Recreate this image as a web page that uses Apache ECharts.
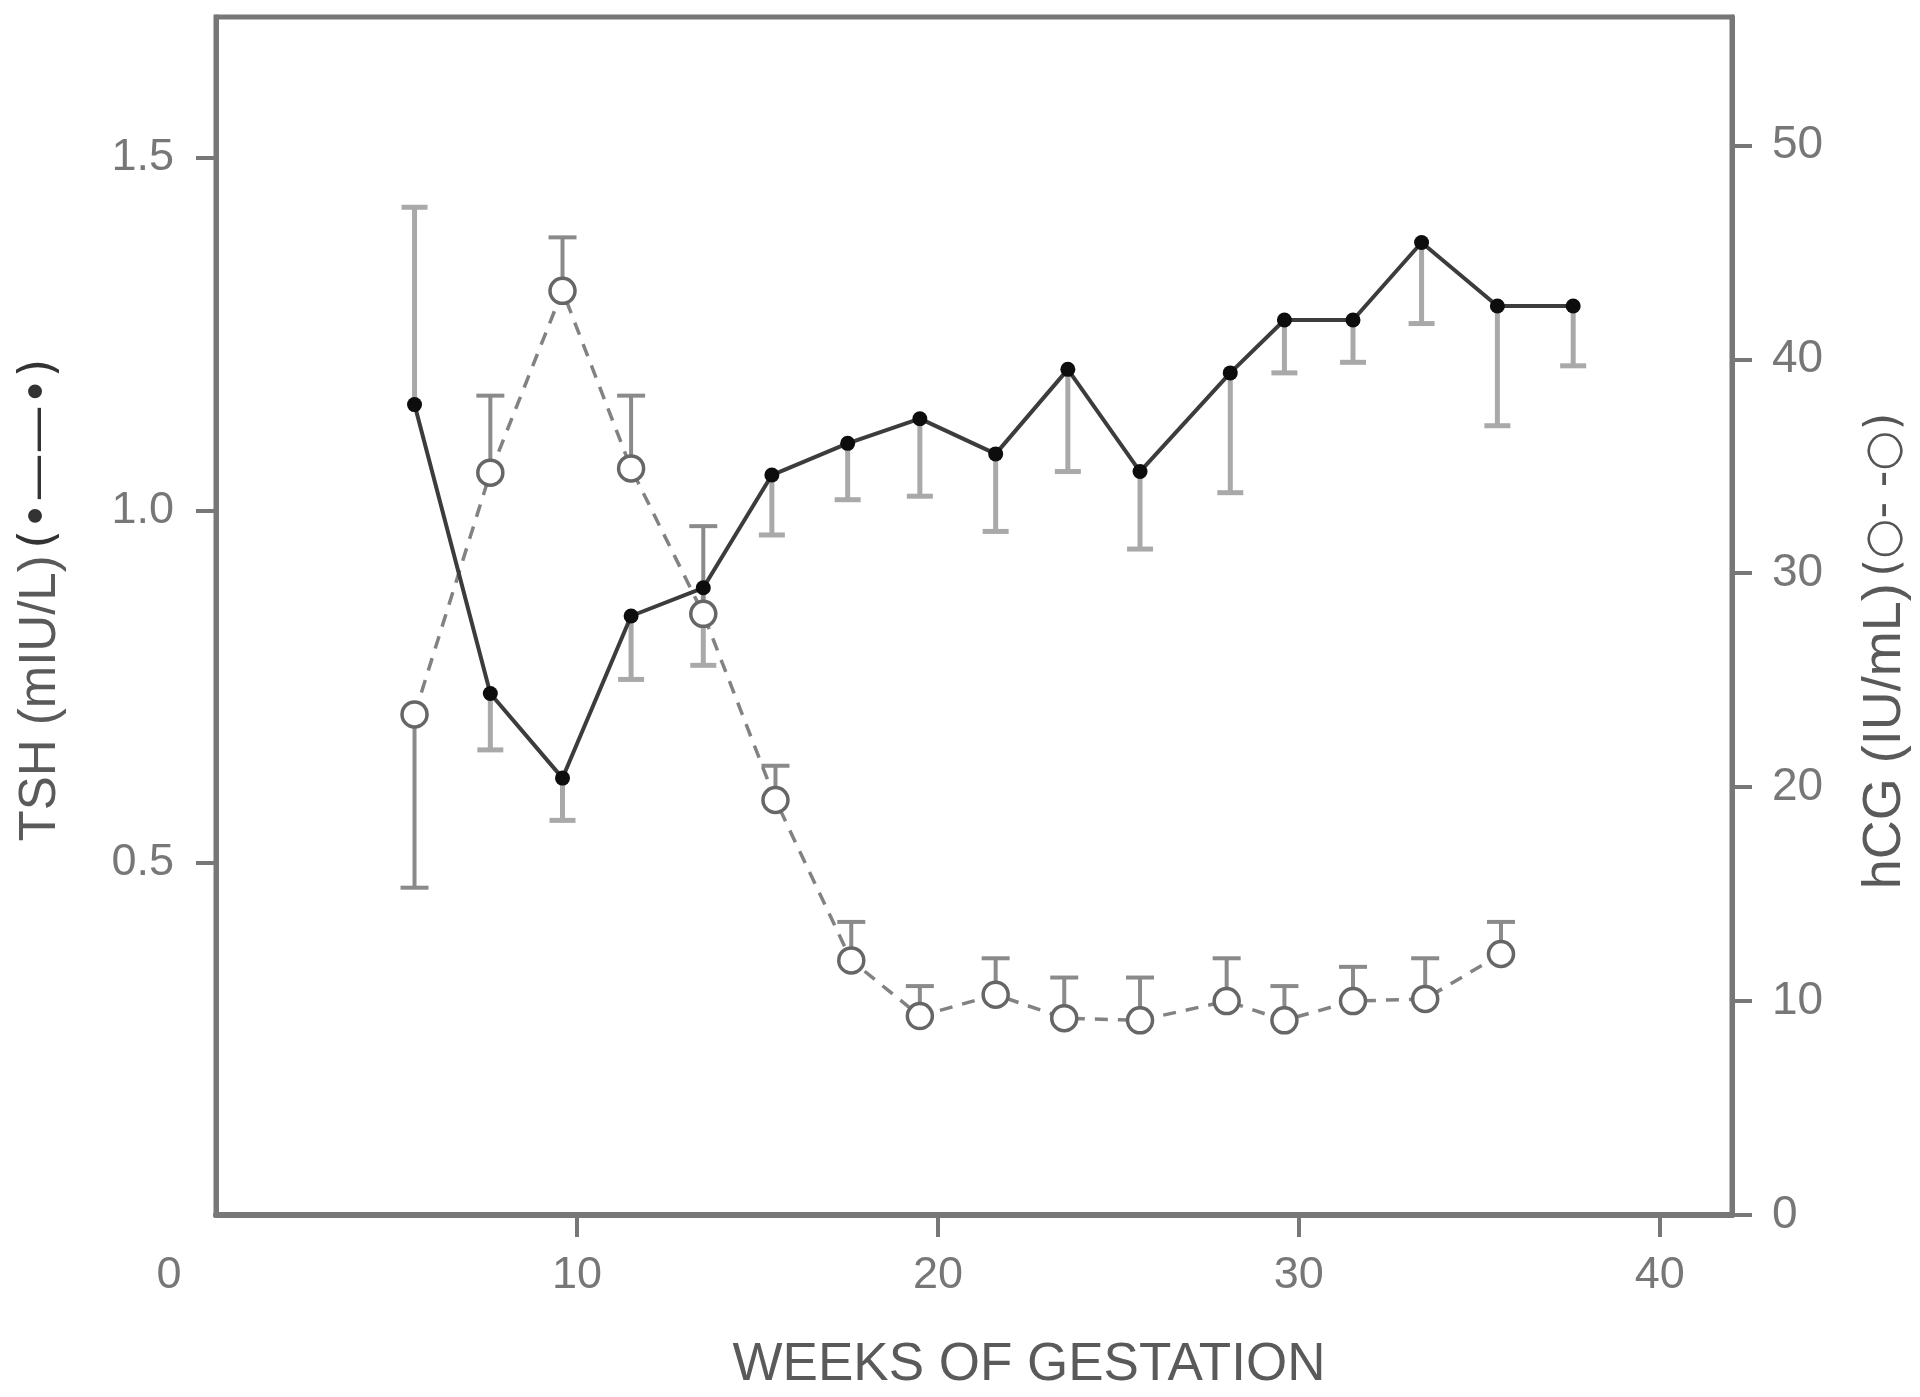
<!DOCTYPE html>
<html>
<head>
<meta charset="utf-8">
<title>TSH and hCG by weeks of gestation</title>
<script src="https://cdn.jsdelivr.net/npm/echarts@6/dist/echarts.min.js"></script>
<style>
  html, body { margin: 0; padding: 0; background: #fff; }
  #main { width: 1920px; height: 1397px; }
</style>
</head>
<body>
<div id="main"></div>
<script>
// TSH (filled dots, solid line, left axis)
var tshWeeks = [5.5, 7.6, 9.6, 11.5, 13.5, 15.4, 17.5, 19.5, 21.6, 23.6, 25.6, 28.1, 29.6, 31.5, 33.4, 35.5, 37.6];
var tshValues = [1.15, 0.74, 0.62, 0.85, 0.89, 1.05, 1.095, 1.13, 1.08, 1.20, 1.055, 1.195, 1.27, 1.27, 1.38, 1.29, 1.29];
// one-sided error bars, signed (+ up, - down)
var tshErr = [0.28, -0.08, -0.06, -0.09, -0.11, -0.085, -0.08, -0.11, -0.11, -0.145, -0.11, -0.17, -0.075, -0.06, -0.115, -0.17, -0.085];

// hCG (open circles, dashed line, right axis)
var hcgWeeks = [5.5, 7.6, 9.6, 11.5, 13.5, 15.5, 17.6, 19.5, 21.6, 23.5, 25.6, 28.0, 29.6, 31.5, 33.5, 35.6];
var hcgValues = [23.4, 34.7, 43.2, 34.9, 28.1, 19.4, 11.9, 9.3, 10.3, 9.2, 9.1, 10.0, 9.1, 10.0, 10.1, 12.2];
var hcgErr = [-8.1, 3.6, 2.5, 3.4, 4.1, 1.6, 1.8, 1.4, 1.7, 1.9, 2.0, 2.0, 1.6, 1.6, 1.9, 1.5];

var xLabels = [0, 10, 20, 30, 40];
var xTicks = [10, 20, 30, 40];
var tshTicks = [0.5, 1.0, 1.5];
var hcgTicks = [0, 10, 20, 30, 40, 50];

var FONT = "'Liberation Sans', Arial, Helvetica, sans-serif";
var FRAME = '#777';
var LABEL = '#777';
var TITLE = '#5a5a5a';

function zip(xs, ys, es) {
  return xs.map(function (x, i) {
    return es ? [x, ys[i], es[i]] : [x, ys[i]];
  });
}

function errorBars(color, width, capHalf) {
  return function (params, api) {
    var x = api.value(0);
    var y = api.value(1);
    var e = api.value(2);
    var p0 = api.coord([x, y]);
    var p1 = api.coord([x, y + e]);
    var st = { stroke: color, lineWidth: width };
    return {
      type: 'group',
      children: [
        { type: 'line', shape: { x1: p0[0], y1: p0[1], x2: p1[0], y2: p1[1] }, style: st },
        { type: 'line', shape: { x1: p1[0] - capHalf, y1: p1[1], x2: p1[0] + capHalf, y2: p1[1] }, style: st }
      ]
    };
  };
}

var chart = echarts.init(document.getElementById('main'));

var option = {
  animation: false,
  backgroundColor: '#fff',
  grid: {
    left: 216,
    right: 187,
    top: 17,
    bottom: 179,
    show: true,
    borderColor: FRAME,
    borderWidth: 5
  },
  xAxis: {
    type: 'value',
    min: 0,
    max: 42,
    interval: 10,
    name: 'WEEKS OF GESTATION',
    nameLocation: 'middle',
    nameGap: 124,
    nameTextStyle: { fontFamily: FONT, fontSize: 53, color: TITLE, padding: [0, 0, 0, 110] },
    axisLine: { show: true, lineStyle: { color: FRAME, width: 6 } },
    axisTick: { show: true, length: 22, customValues: xTicks, lineStyle: { color: FRAME, width: 4 } },
    splitLine: { show: false },
    axisLabel: {
      customValues: xLabels,
      margin: 38,
      fontFamily: FONT,
      fontSize: 45,
      color: LABEL,
      formatter: function (v) {
        return v === 0 ? '{z|0}' : String(v);
      },
      rich: {
        z: { fontFamily: FONT, fontSize: 45, color: LABEL, padding: [0, 94, 0, 0] }
      }
    }
  },
  yAxis: [
    {
      type: 'value',
      position: 'left',
      min: 0,
      max: 1.7,
      interval: 0.5,
      name: '{t|TSH (mIU/L)}  {s|(•——•)}',
      nameLocation: 'middle',
      nameRotate: 90,
      nameGap: 150,
      nameTextStyle: {
        padding: [0, 0, 0, 32],
        rich: {
          t: { fontFamily: FONT, fontSize: 51, color: TITLE },
          s: { fontFamily: 'DejaVu Sans', fontSize: 48, color: '#333' }
        }
      },
      axisLine: { show: true, lineStyle: { color: FRAME, width: 5 } },
      axisTick: { show: true, length: 20, customValues: tshTicks, lineStyle: { color: FRAME, width: 4 } },
      splitLine: { show: false },
      axisLabel: {
        customValues: tshTicks,
        margin: 42,
        fontFamily: FONT,
        fontSize: 45,
        color: LABEL,
        formatter: function (v) { return v.toFixed(1); }
      }
    },
    {
      type: 'value',
      position: 'right',
      min: 0,
      max: 56,
      interval: 10,
      name: '{t|hCG (IU/mL)}  {s|(○- -○)}',
      nameLocation: 'middle',
      nameRotate: 90,
      nameGap: 126,
      nameTextStyle: {
        padding: [0, 70, 0, 0],
        rich: {
          t: { fontFamily: FONT, fontSize: 54, color: TITLE },
          s: { fontFamily: 'DejaVu Sans', fontSize: 46, color: '#555' }
        }
      },
      axisLine: { show: true, lineStyle: { color: FRAME, width: 5 } },
      axisTick: { show: true, length: 20, customValues: hcgTicks, lineStyle: { color: FRAME, width: 4 } },
      splitLine: { show: false },
      axisLabel: {
        customValues: hcgTicks,
        margin: 40,
        fontFamily: FONT,
        fontSize: 46,
        color: LABEL
      }
    }
  ],
  series: [
    {
      name: 'TSH error',
      type: 'custom',
      yAxisIndex: 0,
      z: 1,
      renderItem: errorBars('#a9a9a9', 5, 13),
      encode: { x: 0, y: 1 },
      data: zip(tshWeeks, tshValues, tshErr)
    },
    {
      name: 'hCG error',
      type: 'custom',
      yAxisIndex: 1,
      z: 1,
      renderItem: errorBars('#8a8a8a', 4, 14),
      encode: { x: 0, y: 1 },
      data: zip(hcgWeeks, hcgValues, hcgErr)
    },
    {
      name: 'hCG',
      type: 'line',
      yAxisIndex: 1,
      z: 3,
      symbol: 'circle',
      symbolSize: 25,
      lineStyle: { color: '#828282', width: 3.5, type: [13, 10] },
      itemStyle: { color: '#fff', borderColor: '#666', borderWidth: 3.5 },
      data: zip(hcgWeeks, hcgValues)
    },
    {
      name: 'TSH',
      type: 'line',
      yAxisIndex: 0,
      z: 4,
      symbol: 'circle',
      symbolSize: 15,
      lineStyle: { color: '#3c3c3c', width: 4 },
      itemStyle: { color: '#0d0d0d' },
      data: zip(tshWeeks, tshValues)
    }
  ]
};

chart.setOption(option);
</script>
</body>
</html>
